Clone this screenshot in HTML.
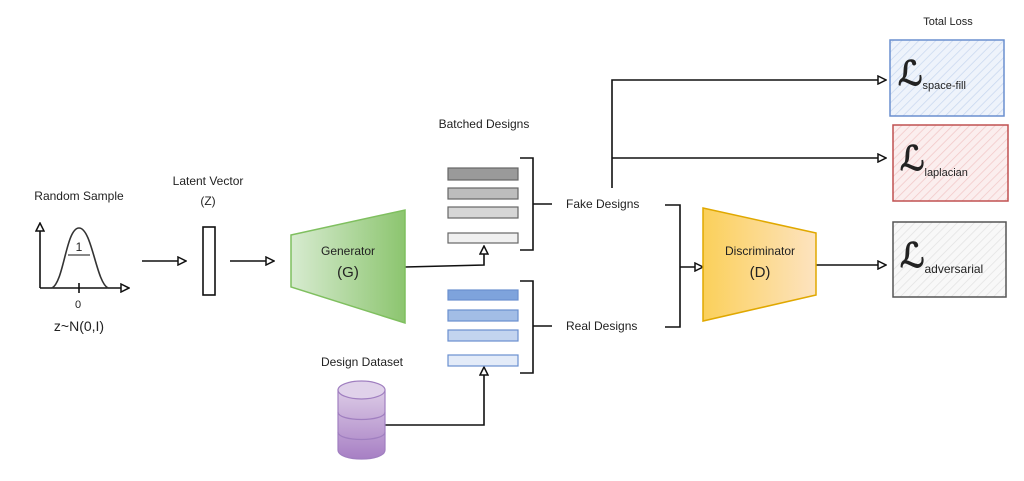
<!DOCTYPE html>
<html><head><meta charset="utf-8"><style>
body{margin:0;background:#fff;}
svg text{font-family:"Liberation Sans",sans-serif;fill:#222;}
</style></head><body>
<svg width="1024" height="476" viewBox="0 0 1024 476" xmlns="http://www.w3.org/2000/svg">
<defs>
<marker id="ar" markerWidth="10" markerHeight="10" refX="8" refY="5" orient="auto" markerUnits="userSpaceOnUse">
<path d="M1,1 L9,5 L1,9 Z" fill="#fff" stroke="#111" stroke-width="1.5"/></marker>
<linearGradient id="gg" x1="0" x2="1"><stop offset="0" stop-color="#d7ebd0"/><stop offset="1" stop-color="#8cc56f"/></linearGradient>
<linearGradient id="yg" x1="0" x2="1"><stop offset="0" stop-color="#fbd05a"/><stop offset="1" stop-color="#fde3c0"/></linearGradient>
<linearGradient id="pg" x1="0" x2="0" y1="0" y2="1"><stop offset="0" stop-color="#dccbe6"/><stop offset="1" stop-color="#a77fc4"/></linearGradient>
<pattern id="hb" width="6" height="6" patternUnits="userSpaceOnUse" patternTransform="rotate(45)"><rect width="6" height="6" fill="#eef3fb"/><line x1="0" y1="0" x2="0" y2="6" stroke="#c9d8ef" stroke-width="1.5"/></pattern>
<pattern id="hr" width="6" height="6" patternUnits="userSpaceOnUse" patternTransform="rotate(45)"><rect width="6" height="6" fill="#fbeeee"/><line x1="0" y1="0" x2="0" y2="6" stroke="#f2c8c8" stroke-width="1.5"/></pattern>
<pattern id="hg" width="6" height="6" patternUnits="userSpaceOnUse" patternTransform="rotate(45)"><rect width="6" height="6" fill="#f8f8f8"/><line x1="0" y1="0" x2="0" y2="6" stroke="#e2e2e2" stroke-width="1.5"/></pattern>
</defs>
<g fill="none" stroke="#111" stroke-width="1.6">
<line x1="40" y1="288" x2="40" y2="224" marker-end="url(#ar)"/>
<line x1="40" y1="288" x2="128" y2="288" marker-end="url(#ar)"/>
<path d="M52,288 C64,282 66,228 79,228 C92,228 96,282 108,288" stroke="#333"/>
<line x1="68" y1="255" x2="90" y2="255" stroke-width="1"/>
<line x1="79" y1="283" x2="79" y2="293"/>
<line x1="142" y1="261" x2="185" y2="261" marker-end="url(#ar)"/>
<rect x="203" y="227" width="12" height="68"/>
<line x1="230" y1="261" x2="273" y2="261" marker-end="url(#ar)"/>
<path d="M405,267 L484,265 L484,247" marker-end="url(#ar)"/>
<path d="M385,425 L484,425 L484,368" marker-end="url(#ar)"/>
<path d="M520,158 L533,158 L533,250 L520,250 M533,204 L552,204"/>
<path d="M520,281 L533,281 L533,373 L520,373 M533,326 L552,326"/>
<path d="M665,205 L680,205 L680,327 L665,327 M680,267 L702,267" />
<path d="M612,188 L612,80 L885,80" marker-end="url(#ar)"/>
<path d="M612,158 L885,158" marker-end="url(#ar)"/>
<path d="M816,265 L885,265" marker-end="url(#ar)"/>
<path d="M695,267 L702,267" marker-end="url(#ar)"/>
</g>
<polygon points="291,235 405,210 405,323 291,287" fill="url(#gg)" stroke="#7fbf5f" stroke-width="1.5"/>
<polygon points="703,208 816,233 816,295 703,321" fill="url(#yg)" stroke="#e0a800" stroke-width="1.5"/>
<g stroke="#666" stroke-width="1.2">
<rect x="448" y="168" width="70" height="12" fill="#9a9a9a"/>
<rect x="448" y="188" width="70" height="11" fill="#bdbdbd"/>
<rect x="448" y="207" width="70" height="11" fill="#d6d6d6"/>
<rect x="448" y="233" width="70" height="10" fill="#f0f0f0"/>
</g>
<g stroke="#6a8fcf" stroke-width="1.2">
<rect x="448" y="290" width="70" height="10" fill="#7ea3dc"/>
<rect x="448" y="310" width="70" height="11" fill="#a2bde6"/>
<rect x="448" y="330" width="70" height="11" fill="#c3d4ef"/>
<rect x="448" y="355" width="70" height="11" fill="#e3ebf8"/>
</g>
<g stroke="#a07fc0" stroke-width="1.2" fill="url(#pg)">
<path d="M338,390 L338,450 C338,462 385,462 385,450 L385,390 Z"/>
<ellipse cx="361.5" cy="390" rx="23.5" ry="9" fill="#e0d2ea"/>
<path d="M338,412 C338,422 385,422 385,412 M338,432 C338,442 385,442 385,432" fill="none"/>
</g>
<rect x="890" y="40" width="114" height="76" fill="url(#hb)" stroke="#6a8fcf" stroke-width="1.5"/>
<rect x="893" y="125" width="115" height="76" fill="url(#hr)" stroke="#c05050" stroke-width="1.5"/>
<rect x="893" y="222" width="113" height="75" fill="url(#hg)" stroke="#555" stroke-width="1.5"/>
<g font-size="12">
<text x="79" y="200" text-anchor="middle">Random Sample</text>
<text x="208" y="185" text-anchor="middle">Latent Vector</text>
<text x="208" y="205" text-anchor="middle">(Z)</text>
<text x="79" y="251" text-anchor="middle" fill="#555">1</text>
<text x="78" y="308" text-anchor="middle" fill="#555" font-size="11">0</text>
<text x="79" y="331" text-anchor="middle" font-size="14">z~N(0,I)</text>
<text x="348" y="255" text-anchor="middle">Generator</text>
<text x="348" y="277" text-anchor="middle" font-size="15">(G)</text>
<text x="760" y="255" text-anchor="middle">Discriminator</text>
<text x="760" y="277" text-anchor="middle" font-size="15">(D)</text>
<text x="484" y="128" text-anchor="middle">Batched Designs</text>
<text x="362" y="366" text-anchor="middle">Design Dataset</text>
<text x="566" y="208">Fake Designs</text>
<text x="566" y="330">Real Designs</text>
<text x="948" y="25" text-anchor="middle" font-size="11">Total Loss</text>
</g>
<text x="898" y="85" font-size="34" font-weight="bold" font-family="DejaVu Serif,serif" fill="#111">ℒ<tspan font-size="11" font-weight="normal" font-family="Liberation Sans,sans-serif" dy="4">space-fill</tspan></text>
<text x="900" y="170" font-size="34" font-weight="bold" font-family="DejaVu Serif,serif" fill="#111">ℒ<tspan font-size="11" font-weight="normal" font-family="Liberation Sans,sans-serif" dy="6">laplacian</tspan></text>
<text x="900" y="267" font-size="34" font-weight="bold" font-family="DejaVu Serif,serif" fill="#111">ℒ<tspan font-size="12" font-weight="normal" font-family="Liberation Sans,sans-serif" dy="6">adversarial</tspan></text>
</svg>
</body></html>
